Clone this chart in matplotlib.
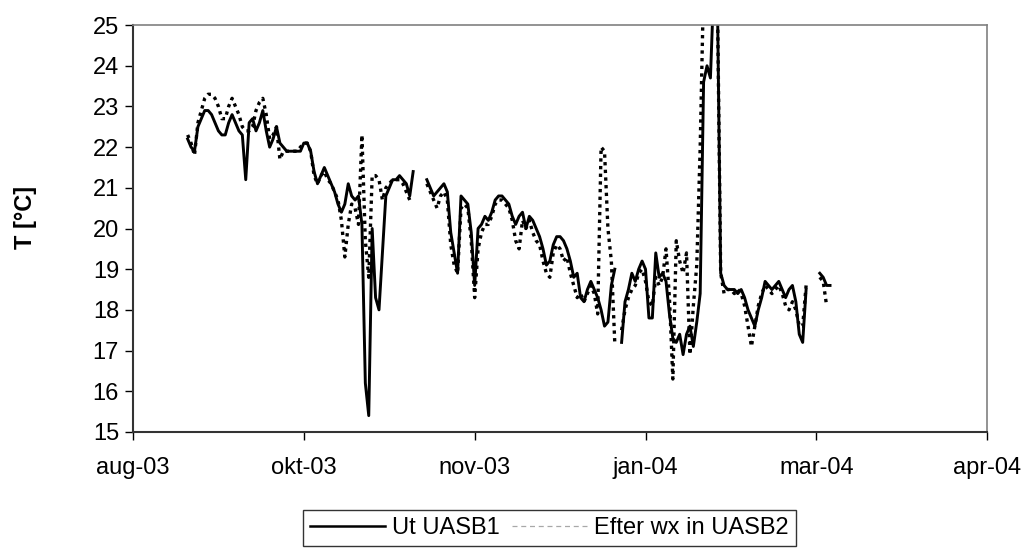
import matplotlib
matplotlib.use('Agg')
import matplotlib.pyplot as plt
from matplotlib.lines import Line2D
import numpy as np
import pandas as pd

nan = np.nan

# daily values from 2003-09-02
start = '2003-09-02'
ut_uasb1 = [
    22.2, 22.0, 21.9, 22.5, 22.7, 22.9, 22.9, 22.8, 22.6, 22.4,
    22.3, 22.3, 22.6, 22.8, 22.6, 22.4, 22.3, 21.2, 22.6, 22.7,
    22.4, 22.6, 22.9, 22.4, 22.0, 22.2, 22.5, 22.1, 22.0, 21.9,
    21.9, 21.9, 21.9, 21.9, 22.1, 22.1, 21.9, 21.4, 21.1, 21.3,
    21.5, 21.3, 21.1, 20.9, 20.6, 20.4, 20.6, 21.1, 20.8, 20.7,
    20.8, 20.1, 16.2, 15.4, 20.0, 18.3, 18.0, 19.4, 20.8, 21.0,
    21.2, 21.2, 21.3, 21.2, 21.1, 20.8, 21.4, nan, nan, nan,
    21.2, 21.0, 20.8, 20.9, 21.0, 21.1, 20.9, 19.9, 19.4, 18.9,
    20.8, 20.7, 20.6, 19.9, 18.6, 20.0, 20.1, 20.3, 20.2, 20.4,
    20.7, 20.8, 20.8, 20.7, 20.6, 20.3, 20.1, 20.3, 20.4, 20.0,
    20.3, 20.2, 20.0, 19.8, 19.5, 19.1, 19.2, 19.6, 19.8, 19.8,
    19.7, 19.5, 19.2, 18.8, 18.9, 18.3, 18.2, 18.5, 18.7, 18.5,
    18.3, 18.0, 17.6, 17.7, 18.6, 19.0, nan, 17.2, 18.2, 18.5,
    18.9, 18.7, 19.0, 19.2, 19.0, 17.8, 17.8, 19.4, 18.8, 18.9,
    18.7, 17.9, 17.3, 17.2, 17.4, 16.9, 17.4, 17.6, 17.1, 17.7,
    18.4, 23.6, 24.0, 23.7, 26.0, 26.0, 18.9, 18.6, 18.5, 18.5,
    18.5, 18.4, 18.5, 18.3, 18.0, 17.8, 17.6, 18.0, 18.3, 18.7,
    18.6, 18.5, 18.6, 18.7, 18.5, 18.3, 18.5, 18.6, 18.2, 17.4,
    17.2, 18.5, nan, nan, nan, 18.9, 18.8, 18.6, 18.6,
]
efter_wx = [
    22.3, 22.1, 21.8, 22.6, 22.9, 23.2, 23.3, 23.3, 23.2, 23.0,
    22.7, 22.7, 23.0, 23.2, 23.0, 22.8, 22.5, 22.4, 22.4, 22.5,
    22.9, 23.1, 23.2, 22.8, 22.2, 22.3, 22.5, 21.7, 21.9, 21.9,
    21.9, 21.9, 21.9, 22.0, 22.1, 22.1, 21.9, 21.3, 21.1, 21.3,
    21.4, 21.2, 21.1, 20.9, 20.7, 20.2, 19.3, 20.1, 20.6, 20.5,
    20.1, 22.3, 19.7, 18.8, 21.3, 21.3, 21.2, 20.7, 21.0, 21.1,
    21.2, 21.2, 21.2, 21.1, 20.9, 20.7, nan, nan, nan, nan,
    21.1, 20.9, 20.7, 20.5, 20.8, 20.9, 20.7, 19.6, 19.1, 18.9,
    20.5, 20.6, 20.5, 19.7, 18.3, 19.5, 19.9, 20.1, 20.1, 20.3,
    20.6, 20.7, 20.7, 20.6, 20.5, 20.2, 19.7, 19.5, 20.2, 20.0,
    20.2, 19.9, 19.7, 19.6, 19.2, 18.9, 18.8, 19.4, 19.6, 19.5,
    19.2, 19.3, 18.9, 18.6, 18.3, 18.4, 18.2, 18.4, 18.6, 18.4,
    17.9, 22.0, 21.9, 20.0, 19.2, 17.2, nan, 17.5, 18.0, 18.3,
    18.5, 18.6, 18.9, 19.0, 18.7, 18.2, 18.1, 18.8, 18.6, 18.8,
    19.5, 18.3, 16.3, 19.7, 19.2, 18.9, 19.4, 16.9, 18.1, 19.1,
    22.0, 26.0, 26.0, 26.0, 26.0, 26.0, 18.9, 18.4, 18.5, 18.5,
    18.4, 18.5, 18.4, 18.1, 17.6, 17.1, 17.6, 18.1, 18.4, 18.6,
    18.5, 18.4, 18.5, 18.6, 18.4, 18.1, 18.0, 18.2, 18.0, 17.6,
    17.6, 18.6, nan, nan, nan, 18.8, 18.7, 18.1, nan,
]
tick_labels = ['aug-03', 'okt-03', 'nov-03', 'jan-04', 'mar-04', 'apr-04']

dates = pd.date_range(start, periods=len(ut_uasb1), freq='D')
ticks = pd.date_range('2003-08-17', periods=len(tick_labels), freq='50D')

plt.rcParams['font.family'] = ['Liberation Sans', 'DejaVu Sans']
fig = plt.figure(figsize=(10.23, 5.58), dpi=100)
ax = fig.add_axes([0.130, 0.226, 0.835, 0.729])

ax.plot(dates, ut_uasb1, color='black', linewidth=2.1, solid_joinstyle='round')
ax.plot(dates, efter_wx, color='black', linewidth=2.4, linestyle=(0, (1, 1.3)))

ax.set_xlim(ticks[0], ticks[-1])
ax.set_ylim(15, 25)
ax.set_yticks(range(15, 26))
ax.set_xticks(ticks)
ax.set_xticklabels(tick_labels)
ax.tick_params(labelsize=17, length=6, width=1, direction='out', color='black')
ax.tick_params(axis='x', pad=12)
ax.tick_params(axis='y', pad=4)

for side in ('top', 'right'):
    ax.spines[side].set_color('#808080')
    ax.spines[side].set_linewidth(1.2)
for side in ('left', 'bottom'):
    ax.spines[side].set_color('#333333')
    ax.spines[side].set_linewidth(1.5)

fig.text(0.025, 0.61, 'T [°C]', rotation=90, ha='center', va='center',
         fontsize=17, fontweight='bold')

handles = [Line2D([], [], color='black', linewidth=1.8),
           Line2D([], [], color='#a8a8a8', linewidth=0.9, linestyle=(0, (4, 3)))]
leg = fig.legend(handles, ['Ut UASB1', 'Efter wx in UASB2'], loc='center',
                 bbox_to_anchor=(0.537, 0.054), ncol=2, fontsize=17,
                 handlelength=3.2, handletextpad=0.3, columnspacing=0.5,
                 frameon=True, fancybox=False, borderpad=0.3)
leg.get_frame().set_edgecolor('black')
leg.get_frame().set_linewidth(1.0)

fig.savefig('out.png', dpi=100)
